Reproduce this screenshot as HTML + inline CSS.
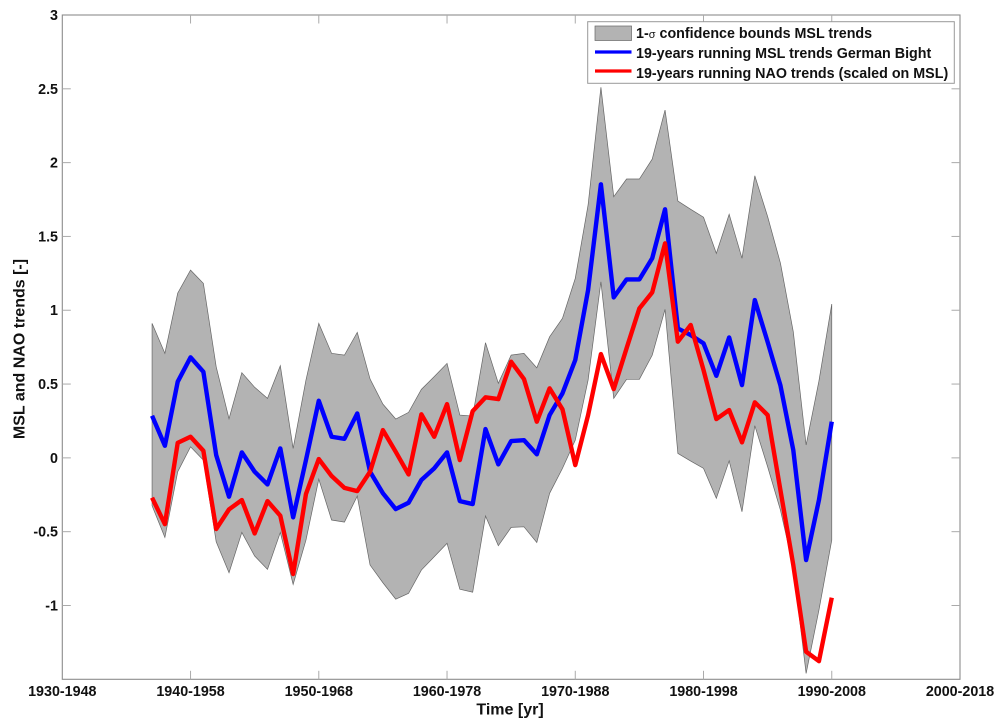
<!DOCTYPE html>
<html lang="en">
<head>
<meta charset="utf-8">
<title>MSL and NAO trends</title>
<style>
  html, body { margin: 0; padding: 0; background: #fff; }
  svg { display: block; filter: blur(0.35px); }
  text { font-family: "Liberation Sans", Arial, sans-serif; font-weight: bold; fill: #111; }
</style>
</head>
<body>
<svg id="chart" xmlns="http://www.w3.org/2000/svg" width="1000" height="725" viewBox="0 0 1000 725">
  <rect x="62.3" y="15" width="897.7" height="664.3" fill="#fff"/>
  <g id="bands"></g>
  <g id="lines"></g>
  <g id="axes"></g>
  <text x="510" y="714.5" text-anchor="middle" font-size="16">Time [yr]</text>
  <text transform="translate(24.5,349) rotate(-90)" text-anchor="middle" font-size="16">MSL and NAO trends [-]</text>
  <g>
    <rect x="587.7" y="21.7" width="366.6" height="61.6" fill="#fff" stroke="#999" stroke-width="1"/>
    <rect x="595" y="26" width="36.5" height="14.5" fill="#b3b3b3" stroke="#666" stroke-width="0.7"/>
    <text x="636" y="38" font-size="14.3">1-<tspan font-size="11" font-weight="normal">σ</tspan> confidence bounds MSL trends</text>
    <line x1="595" y1="52" x2="631.5" y2="52" stroke="#0000ff" stroke-width="3.2"/>
    <text x="636" y="58" font-size="14.3">19-years running MSL trends German Bight</text>
    <line x1="595" y1="71" x2="631.5" y2="71" stroke="#ff0000" stroke-width="3.2"/>
    <text x="636" y="78" font-size="14.3">19-years running NAO trends (scaled on MSL)</text>
  </g>
</svg>
<script>
const startYear = 1937;
const upperBound = [0.911,0.708,1.116,1.272,1.182,0.617,0.265,0.577,0.478,0.403,0.624,0.064,0.527,0.911,0.708,0.696,0.85,0.534,0.364,0.263,0.308,0.464,0.55,0.64,0.29,0.283,0.78,0.505,0.696,0.708,0.61,0.82,0.945,1.216,1.713,2.51,1.769,1.889,1.889,2.024,2.356,1.74,1.684,1.63,1.385,1.65,1.352,1.911,1.634,1.318,0.854,0.087,0.52,1.042];
const lowerBound = [-0.324,-0.539,-0.094,0.075,-0.015,-0.568,-0.778,-0.505,-0.665,-0.755,-0.505,-0.857,-0.557,-0.144,-0.421,-0.435,-0.259,-0.726,-0.846,-0.957,-0.918,-0.76,-0.67,-0.579,-0.89,-0.91,-0.394,-0.595,-0.471,-0.467,-0.573,-0.24,-0.071,0.12,0.527,1.193,0.403,0.532,0.532,0.696,1.006,0.03,-0.022,-0.071,-0.274,-0.02,-0.365,0.218,-0.06,-0.354,-0.738,-1.46,-1.031,-0.557];
const mslTrend = [0.285,0.082,0.516,0.681,0.583,0.019,-0.263,0.037,-0.094,-0.18,0.064,-0.403,-0.015,0.387,0.143,0.129,0.301,-0.094,-0.24,-0.347,-0.304,-0.15,-0.071,0.037,-0.293,-0.313,0.195,-0.044,0.114,0.12,0.024,0.29,0.437,0.663,1.137,1.853,1.087,1.209,1.209,1.352,1.684,0.877,0.832,0.776,0.556,0.816,0.493,1.069,0.785,0.49,0.053,-0.692,-0.286,0.245];
const naoTrend = [-0.27,-0.449,0.102,0.143,0.048,-0.482,-0.349,-0.286,-0.512,-0.293,-0.392,-0.787,-0.245,-0.008,-0.123,-0.203,-0.225,-0.094,0.188,0.041,-0.112,0.295,0.143,0.364,-0.015,0.317,0.41,0.398,0.651,0.534,0.245,0.471,0.329,-0.049,0.29,0.703,0.466,0.742,1.013,1.121,1.453,0.787,0.9,0.595,0.263,0.324,0.105,0.376,0.29,-0.22,-0.726,-1.313,-1.377,-0.947];
const xTickYears = [1930,1940,1950,1960,1970,1980,1990,2000];
const xTickLabels = ["1930-1948","1940-1958","1950-1968","1960-1978","1970-1988","1980-1998","1990-2008","2000-2018"];
const yTickValues = [3,2.5,2,1.5,1,0.5,0,-0.5,-1];
const yTickLabels = ["3","2.5","2","1.5","1","0.5","0","-0.5","-1"];

const plotLeft = 62.3, plotRight = 960, plotTop = 15, plotBottom = 679.3;
const xMin = 1930, xMax = 2000, yMin = -1.5, yMax = 3;
const NS = "http://www.w3.org/2000/svg";

function xScale(year) {
  return plotLeft + (year - xMin) / (xMax - xMin) * (plotRight - plotLeft);
}
function yScale(value) {
  return plotTop + (yMax - value) / (yMax - yMin) * (plotBottom - plotTop);
}
function seriesPoints(values) {
  return values.map(function (v, i) {
    return xScale(startYear + i).toFixed(2) + "," + yScale(v).toFixed(2);
  });
}
function makeTick(x1, y1, x2, y2, color) {
  const t = document.createElementNS(NS, "line");
  t.setAttribute("x1", x1);
  t.setAttribute("y1", y1);
  t.setAttribute("x2", x2);
  t.setAttribute("y2", y2);
  t.setAttribute("stroke", color);
  t.setAttribute("stroke-width", "1");
  return t;
}

const bands = document.getElementById("bands");
const band = document.createElementNS(NS, "polygon");


band.setAttribute("points", seriesPoints(upperBound).concat(seriesPoints(lowerBound).reverse()).join(" "));
band.setAttribute("fill", "#b3b3b3");
band.setAttribute("stroke", "#666");
band.setAttribute("stroke-width", "0.7");
bands.appendChild(band);

const lines = document.getElementById("lines");
const mslLine = document.createElementNS(NS, "polyline");


mslLine.setAttribute("points", seriesPoints(mslTrend).join(" "));
mslLine.setAttribute("fill", "none");
mslLine.setAttribute("stroke", "#0000ff");
mslLine.setAttribute("stroke-width", "4.4");
mslLine.setAttribute("stroke-linejoin", "round");
lines.appendChild(mslLine);

const naoLine = document.createElementNS(NS, "polyline");


naoLine.setAttribute("points", seriesPoints(naoTrend).join(" "));
naoLine.setAttribute("fill", "none");
naoLine.setAttribute("stroke", "#ff0000");
naoLine.setAttribute("stroke-width", "4.4");
naoLine.setAttribute("stroke-linejoin", "round");
lines.appendChild(naoLine);

const axes = document.getElementById("axes");
const frame = document.createElementNS(NS, "rect");


frame.setAttribute("x", plotLeft);
frame.setAttribute("y", plotTop);
frame.setAttribute("width", plotRight - plotLeft);
frame.setAttribute("height", plotBottom - plotTop);
frame.setAttribute("fill", "none");
frame.setAttribute("stroke", "#8c8c8c");
frame.setAttribute("stroke-width", "1.1");
axes.appendChild(frame);

xTickYears.forEach(function (year, i) {
  const x = xScale(year);
  if (i > 0 && i < xTickYears.length - 1) {
    const bottomTick = makeTick(x, plotBottom, x, plotBottom - 8.5, "#aaa");
    
    
    axes.appendChild(bottomTick);
    const topTick = makeTick(x, plotTop, x, plotTop + 8.5, "#aaa");
    
    
    axes.appendChild(topTick);
  }
  const label = document.createElementNS(NS, "text");
  
  
  label.setAttribute("x", x);
  label.setAttribute("y", 695.8);
  label.setAttribute("text-anchor", "middle");
  label.setAttribute("font-size", "14.3");
  label.textContent = xTickLabels[i];
  axes.appendChild(label);
});

yTickValues.forEach(function (value, i) {
  const y = yScale(value);
  if (i > 0) {
    const leftTick = makeTick(plotLeft, y, plotLeft + 8.5, y, "#aaa");
    
    
    axes.appendChild(leftTick);
    const rightTick = makeTick(plotRight, y, plotRight - 8.5, y, "#aaa");
    
    
    axes.appendChild(rightTick);
  }
  const label = document.createElementNS(NS, "text");
  
  
  label.setAttribute("x", 58);
  label.setAttribute("y", y + 5);
  label.setAttribute("text-anchor", "end");
  label.setAttribute("font-size", "14.3");
  label.textContent = yTickLabels[i];
  axes.appendChild(label);
});
</script>
</body>
</html>
